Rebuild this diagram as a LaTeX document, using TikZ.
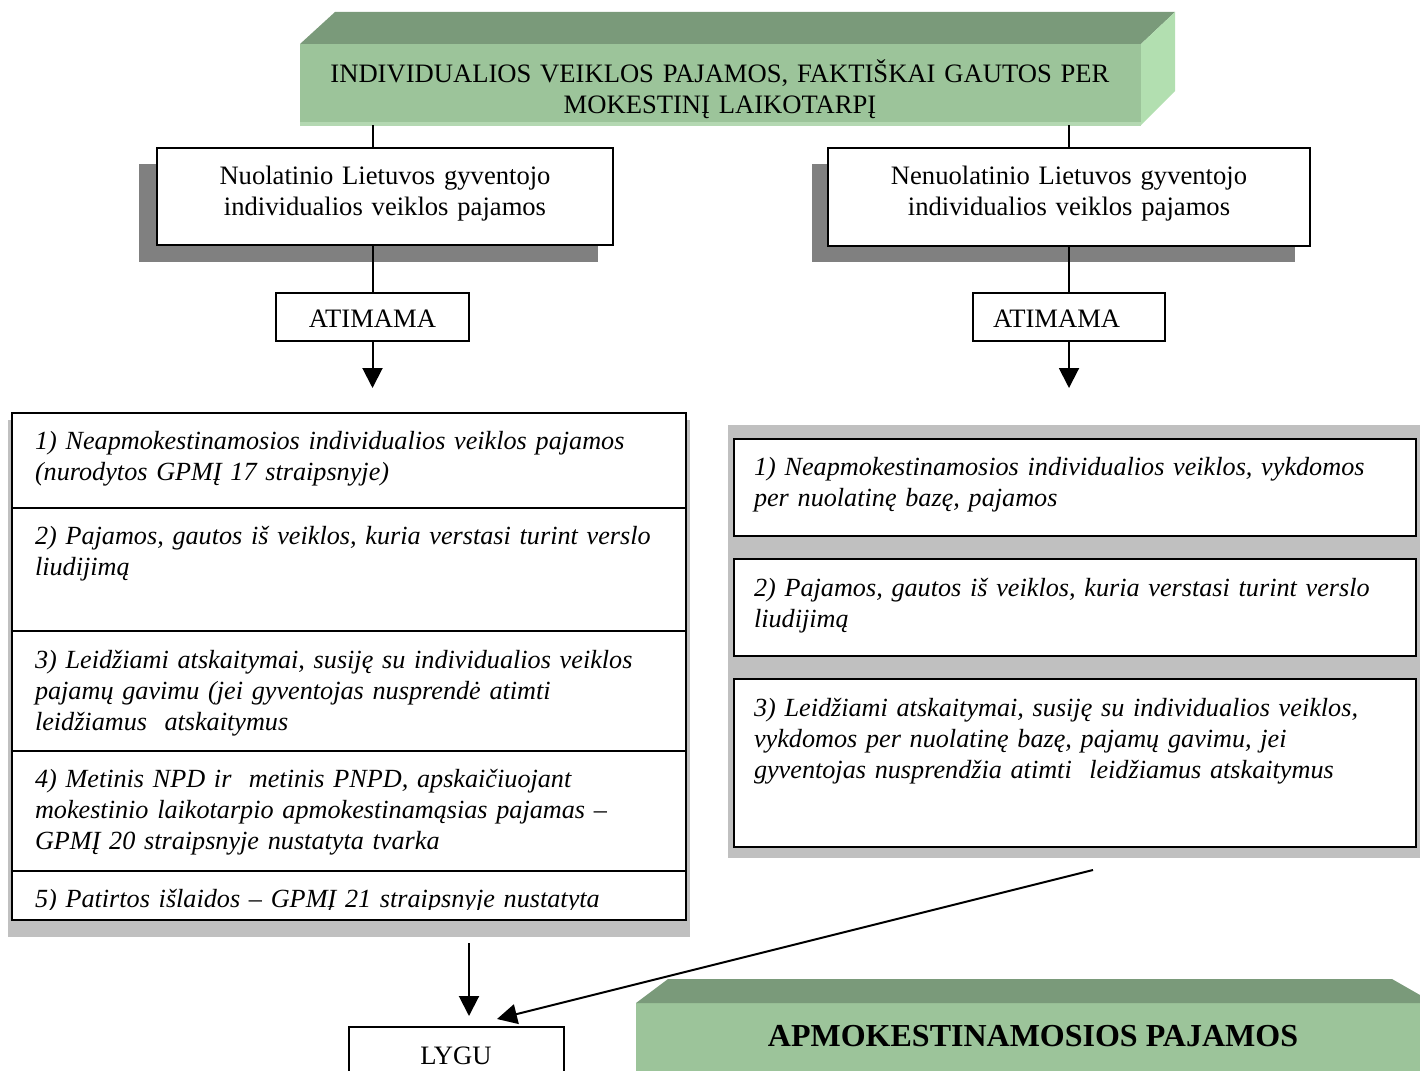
\documentclass[tikz,border=0pt]{standalone}
\usepackage{fontspec}
\setmainfont{Liberation Serif}
\usetikzlibrary{arrows.meta,calc}
\definecolor{gfront}{HTML}{9CC49A}
\definecolor{gtop}{HTML}{7A9A7A}
\definecolor{gside}{HTML}{B2DFB0}
\definecolor{gedge}{HTML}{B4D8B2}
\definecolor{shdark}{HTML}{808080}
\definecolor{shlight}{HTML}{C0C0C0}
\begin{document}
\begin{tikzpicture}[x=1pt,y=-1pt,
  every node/.style={inner sep=0pt,outer sep=0pt},
  boxline/.style={draw=black,line width=2.2pt,fill=white},
  cellbox/.style={draw=black,line width=2.2pt},
  shad/.style={fill=shdark},
  conn/.style={draw=black,line width=2pt},
  arr/.style={conn,-{Triangle[width=20pt,length=20pt]}},
  txt/.style={font=\fontsize{26.6}{31}\selectfont},
  ctxt/.style={txt,align=center,anchor=north},
  itxt/.style={font=\fontsize{26.2}{31}\selectfont\itshape,align=left,anchor=north west,text width=660pt},
  btxt/.style={font=\fontsize{32}{38}\selectfont\bfseries,anchor=base},
]
\useasboundingbox (0,0) rectangle (1420,1070);
\clip (0,0) rectangle (1420,1070);

% ---------- top 3D box ----------
\node[fill=gfront,minimum width=841pt,minimum height=81pt,anchor=north west] (top) at (300,44) {};
\fill[gedge] (300,122) rectangle (1141,126);
\fill[gtop] (300,44) -- (335,12) -- (1175,12) -- (1141,44) -- cycle;
\fill[gside] (1141,44) -- (1175,12) -- (1175,91) -- (1141,125) -- cycle;
\node[ctxt,text width=841pt] (topT) at (720,59.3) {\strut INDIVIDUALIOS VEIKLOS PAJAMOS, FAKTIŠKAI GAUTOS PER\\MOKESTINĮ LAIKOTARPĮ};

% ---------- residence boxes ----------
\fill[shad] (139,164) rectangle (598,262);
\fill[shad] (812,164) rectangle (1295,262);
\node[boxline,minimum width=456pt,minimum height=97pt,anchor=north west] (nuol) at (157,148) {};
\node[boxline,minimum width=482pt,minimum height=98pt,anchor=north west] (nenuol) at (828,148) {};
\node[ctxt,text width=456pt] (nuolT) at (nuol.north |- 0,162.3) {\strut Nuolatinio Lietuvos gyventojo\\individualios veiklos pajamos};
\node[ctxt,text width=482pt] (nenuolT) at (nenuol.north |- 0,162.3) {\strut Nenuolatinio Lietuvos gyventojo\\individualios veiklos pajamos};

% ---------- ATIMAMA ----------
\node[boxline,minimum width=193pt,minimum height=48pt,anchor=north west] (atL) at (276,293) {};
\node[boxline,minimum width=192pt,minimum height=48pt,anchor=north west] (atR) at (973,293) {};
\node[txt,anchor=base] (atLT) at (372.5,327) {ATIMAMA};
\node[txt,anchor=base west] (atRT) at (993,327) {ATIMAMA};
\coordinate (tipL) at (372.5,388);
\coordinate (tipR) at (1069,388);

\draw[conn] (top.south -| atL.north) -- (nuol.north -| atL.north);
\draw[conn] (top.south -| atR.north) -- (nenuol.north -| atR.north);
\draw[conn] (nuol.south -| atL.north) -- (atL.north);
\draw[conn] (nenuol.south -| atR.north) -- (atR.north);
\draw[arr] (atL.south) -- (tipL);
\draw[arr] (atR.south) -- (tipR);

% ---------- left list ----------
\fill[shlight] (8,420) rectangle (690,937);
\fill[white] (12,413) rectangle (686,920);
\node[cellbox,minimum width=674pt,minimum height=95pt,anchor=north west] (L1) at (12,413) {};
\node[cellbox,minimum width=674pt,minimum height=123pt,anchor=north west] (L2) at (12,508) {};
\node[cellbox,minimum width=674pt,minimum height=120pt,anchor=north west] (L3) at (12,631) {};
\node[cellbox,minimum width=674pt,minimum height=120pt,anchor=north west] (L4) at (12,751) {};
\node[cellbox,minimum width=674pt,minimum height=49pt,anchor=north west] (L5) at (12,871) {};
\node[itxt] (L1T) at ($(L1.north west)+(23,14.3)$) {\strut 1) Neapmokestinamosios individualios veiklos pajamos\\(nurodytos GPMĮ 17 straipsnyje)};
\node[itxt] (L2T) at ($(L2.north west)+(23,14.3)$) {\strut 2) Pajamos, gautos iš veiklos, kuria verstasi turint verslo\\liudijimą};
\node[itxt] (L3T) at ($(L3.north west)+(23,15.3)$) {\strut 3) Leidžiami atskaitymai, susiję su individualios veiklos\\pajamų gavimu (jei gyventojas nusprendė atimti\\leidžiamus\ \ atskaitymus};
\node[itxt] (L4T) at ($(L4.north west)+(23,14.3)$) {\strut 4) Metinis NPD ir\ \ metinis PNPD, apskaičiuojant\\mokestinio laikotarpio apmokestinamąsias pajamas –\\GPMĮ 20 straipsnyje nustatyta tvarka};
\begin{scope}
\clip (12,871) rectangle (686,909);
\node[itxt] (L5T) at ($(L5.north west)+(23,14.3)$) {\strut 5) Patirtos išlaidos – GPMĮ 21 straipsnyje nustatyta};
\end{scope}

% ---------- right list ----------
\fill[shlight] (728,425) rectangle (1420,858);
\node[boxline,minimum width=682pt,minimum height=97pt,anchor=north west] (R1) at (734,439) {};
\node[boxline,minimum width=682pt,minimum height=97pt,anchor=north west] (R2) at (734,559) {};
\node[boxline,minimum width=682pt,minimum height=168pt,anchor=north west] (R3) at (734,679) {};
\node[itxt] (R1T) at ($(R1.north west)+(20,14.3)$) {\strut 1) Neapmokestinamosios individualios veiklos, vykdomos\\per nuolatinę bazę, pajamos};
\node[itxt] (R2T) at ($(R2.north west)+(20,15.3)$) {\strut 2) Pajamos, gautos iš veiklos, kuria verstasi turint verslo\\liudijimą};
\node[itxt] (R3T) at ($(R3.north west)+(20,15.3)$) {\strut 3) Leidžiami atskaitymai, susiję su individualios veiklos,\\vykdomos per nuolatinę bazę, pajamų gavimu, jei\\gyventojas nusprendžia atimti\ \ leidžiamus atskaitymus};

% ---------- bottom ----------
\node[boxline,minimum width=215pt,minimum height=70pt,anchor=north west] (lygu) at (349,1027) {};
\node[txt,anchor=base] (lyguT) at (456,1064) {LYGU};
\coordinate (dnStart) at (469,943);
\coordinate (diagStart) at (1093,870);
\draw[arr] (dnStart) -- ($(lygu.north)+(12.5,-11)$);
\draw[arr] (diagStart) -- ($(lygu.north)+(40.5,-8)$);

\node[fill=gfront,minimum width=810pt,minimum height=90pt,anchor=north west] (result) at (636,1003) {};
\fill[gtop] (636,1003) -- (668,979) -- (1392,979) -- (1434,1003) -- cycle;
\node[btxt] (resultT) at (1033,1046) {APMOKESTINAMOSIOS PAJAMOS};
\end{tikzpicture}
\end{document}
